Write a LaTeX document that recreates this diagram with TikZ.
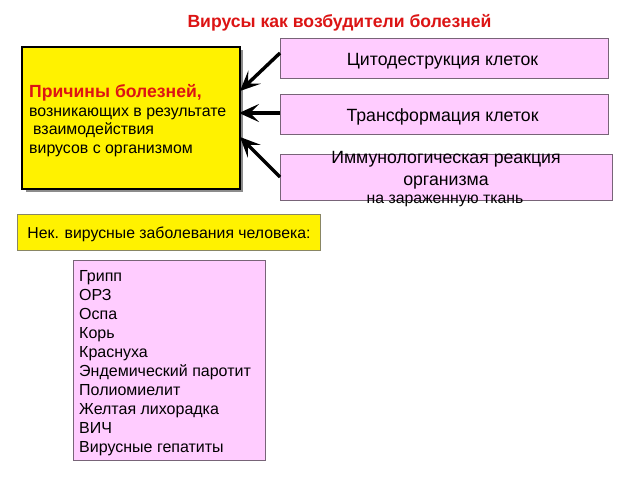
\documentclass[tikz,border=0pt]{standalone}
\usepackage{fontspec}
\setmainfont{Liberation Sans}
\usetikzlibrary{arrows.meta}
\definecolor{pinkbox}{RGB}{255,204,255}
\definecolor{titlered}{RGB}{220,20,20}
\definecolor{boxline}{RGB}{120,100,120}
\tikzset{
  pinkrect/.style={draw=boxline,fill=pinkbox,line width=0.8pt},
  arr/.style={line width=3.4pt,-{Stealth[length=20pt,width=18pt,inset=9pt]}},
  txt/.style={anchor=base,inner sep=0pt},
  ltxt/.style={anchor=base west,inner sep=0pt},
}
\begin{document}
\begin{tikzpicture}[x=1pt,y=-1pt]
\useasboundingbox[fill=white] (0,0) rectangle (640,480);
% title
\node[txt,font=\bfseries\fontsize{17.6}{20}\selectfont,text=titlered] (title) at (339.5,27) {Вирусы как возбудители болезней};
% yellow main box
\fill[black!45] (26,50) rectangle (243,192);
\draw[fill=yellow,line width=2.5pt] (22,47) rectangle (240,189);
\coordinate (ytip1) at (240,91);
\coordinate (ytip2) at (239,113);
\coordinate (ytip3) at (240,137);
\node[ltxt,font=\bfseries\fontsize{17.6}{20}\selectfont,text=titlered] (c1) at (29,97) {Причины болезней,};
\node[ltxt,font=\fontsize{15.9}{19}\selectfont] (c2) at (29,116) {возникающих в результате};
\node[ltxt,font=\fontsize{15.9}{19}\selectfont] (c3) at (33,134) {взаимодействия};
\node[ltxt,font=\fontsize{15.9}{19}\selectfont] (c4) at (29,153) {вирусов с организмом};
% pink boxes
\draw[pinkrect] (280,38) rectangle (608,78);
\node[txt,font=\fontsize{17.7}{20}\selectfont] (b1) at (442.5,65) {Цитодеструкция клеток};
\coordinate (s1) at (280,53);
\draw[pinkrect] (280,94) rectangle (608,134);
\node[txt,font=\fontsize{17.7}{20}\selectfont] (b2) at (442.5,121) {Трансформация клеток};
\coordinate (s2) at (280,113);
\draw[pinkrect] (280,154) rectangle (612,200);
\node[txt,font=\fontsize{17.7}{20}\selectfont] (b3a) at (446,163) {Иммунологическая реакция};
\node[txt,font=\fontsize{17.7}{20}\selectfont] (b3b) at (446,185) {организма};
\node[txt,font=\fontsize{15.8}{18}\selectfont] (b3c) at (445,203) {на зараженную ткань};
\coordinate (s3) at (280,177);
% arrows
\draw[arr] (s1) -- (ytip1);
\draw[arr] (s2) -- (ytip2);
\draw[arr] (s3) -- (ytip3);
% second yellow box
\draw[fill=yellow,draw=black!55!yellow!60!gray,line width=0.8pt] (17,214) rectangle (320,250);
\node[txt,font=\fontsize{15.8}{18}\selectfont] (nek) at (169,238) {Нек. вирусные заболевания человека:};
% list box
\draw[pinkrect] (73,260) rectangle (265,460);
\foreach \t [count=\i from 0] in {Грипп,ОРЗ,Оспа,Корь,Краснуха,Эндемический паротит,Полиомиелит,Желтая лихорадка,ВИЧ,Вирусные гепатиты}
  \node[ltxt,font=\fontsize{16}{19}\selectfont] (l\i) at (79,281+19.1*\i) {\t};
\end{tikzpicture}
\end{document}
